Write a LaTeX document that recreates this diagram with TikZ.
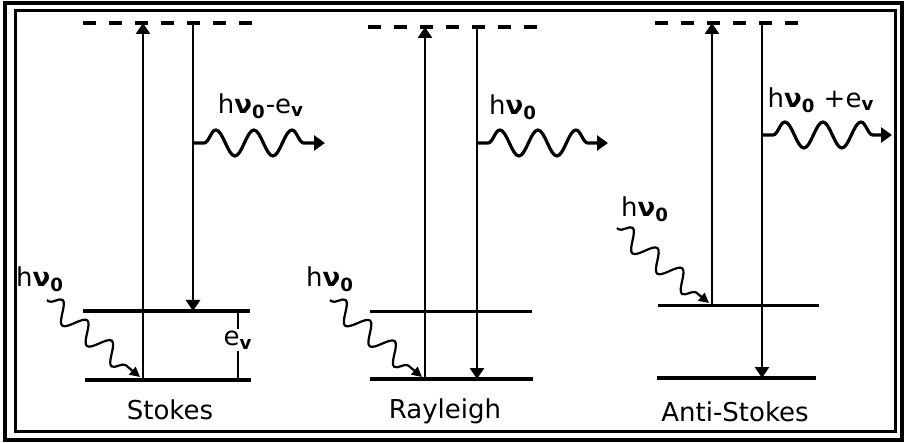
\documentclass[tikz,border=0pt]{standalone}
\usepackage{fontspec}
\setmainfont{DejaVu Sans}
\usetikzlibrary{arrows.meta,decorations.pathmorphing}

\newcommand{\hnu}{h\textbf{ν}\textsubscript{\textbf{0}}}
\newcommand{\evib}{e\textsubscript{\textbf{v}}}

\tikzset{
    level/.style={line width=1.7pt},
    virtual/.style={line width=2.2pt, dash pattern=on 6.5pt off 6.5pt},
    trans/.style={line width=1.4pt, -{Triangle[width=7pt,length=5.5pt]}},
    photonout/.style={line width=1.6pt, -{Triangle[width=7.5pt,length=5.5pt]},
        decorate, decoration={snake, amplitude=6.5pt, segment length=19pt,
        pre length=5.5pt, post length=9pt}},
    photonin/.style={line width=1.1pt, -{Triangle[width=5pt,length=5pt]},
        decorate, decoration={snake, amplitude=5pt, segment length=16pt,
        pre length=1pt, post length=5pt}},
    lbl/.style={font=\fontsize{13}{15}\selectfont, inner sep=1pt},
}

\begin{document}
\begin{tikzpicture}[x=0.5pt, y=-0.5pt]
    \useasboundingbox (0,0) rectangle (905,443);

    % Double frame
    \draw[line width=2pt] (5,3) rectangle (902,440);
    \draw[line width=1.5pt] (15,11) rectangle (895,431);

    % ---------- Stokes ----------
    % Levels
    \draw[level] (85,380) -- (251,380);
    \draw[level] (83,311) -- (250,311);
    \draw[virtual] (83,23) -- (253,23);
    % Transitions
    \coordinate (st-up-b) at (143,380);
    \coordinate (st-up-t) at (143,23);
    \coordinate (st-dn-t) at (193,25);
    \coordinate (st-dn-b) at (193,311);
    \draw[trans] (st-up-b) -- (st-up-t);
    \draw[trans] (st-dn-t) -- (st-dn-b);
    % Photons
    \coordinate (st-out-a) at (193,143);
    \coordinate (st-out-b) at (325,143);
    \draw[photonout] (st-out-a) -- (st-out-b);
    \node[lbl] (st-out-lbl) at (261,106) {\hnu-\evib};
    \coordinate (st-in-a) at (47,300);
    \coordinate (st-in-b) at (140,377);
    \draw[photonin] (st-in-a) -- (st-in-b);
    \node[lbl] (st-in-lbl) at (40,279) {\hnu};
    % Vibrational gap
    \coordinate (st-ev-t) at (238,311);
    \coordinate (st-ev-b) at (238,380);
    \node[lbl] (st-ev) at (238,340) {\evib};
    \draw[line width=1.3pt] (st-ev-t) -- (st-ev);
    \draw[line width=1.3pt] (st-ev) -- (st-ev-b);
    \node[lbl] (st-name) at (170,410) {Stokes};

    % ---------- Rayleigh ----------
    % Levels
    \draw[level] (370,379) -- (533,379);
    \draw[line width=1.5pt] (370,312) -- (532,312);
    \draw[virtual] (368,27) -- (538,27);
    % Transitions
    \coordinate (ra-up-b) at (425,379);
    \coordinate (ra-up-t) at (425,27);
    \coordinate (ra-dn-t) at (477,27);
    \coordinate (ra-dn-b) at (477,379);
    \draw[trans] (ra-up-b) -- (ra-up-t);
    \draw[trans] (ra-dn-t) -- (ra-dn-b);
    % Photons
    \coordinate (ra-out-a) at (477,143);
    \coordinate (ra-out-b) at (608,143);
    \draw[photonout] (ra-out-a) -- (ra-out-b);
    \node[lbl] (ra-out-lbl) at (513,107) {\hnu};
    \coordinate (ra-in-a) at (330,300);
    \coordinate (ra-in-b) at (422,377);
    \draw[photonin] (ra-in-a) -- (ra-in-b);
    \node[lbl] (ra-in-lbl) at (330,279) {\hnu};
    \node[lbl] (ra-name) at (445,411) {Rayleigh};

    % ---------- Anti-Stokes ----------
    % Levels
    \draw[level] (657,378) -- (816,378);
    \draw[line width=1.5pt] (658,306) -- (819,306);
    \draw[virtual] (655,23) -- (800,23);
    % Transitions
    \coordinate (as-up-b) at (712,306);
    \coordinate (as-up-t) at (712,23);
    \coordinate (as-dn-t) at (762,23);
    \coordinate (as-dn-b) at (762,378);
    \draw[trans] (as-up-b) -- (as-up-t);
    \draw[trans] (as-dn-t) -- (as-dn-b);
    % Photons
    \coordinate (as-out-a) at (762,135);
    \coordinate (as-out-b) at (892,135);
    \draw[photonout] (as-out-a) -- (as-out-b);
    \node[lbl] (as-out-lbl) at (821,100) {\hnu\ +\evib};
    \coordinate (as-in-a) at (617,228);
    \coordinate (as-in-b) at (709,303);
    \draw[photonin] (as-in-a) -- (as-in-b);
    \node[lbl] (as-in-lbl) at (645,209) {\hnu};
    \node[lbl] (as-name) at (735,412) {Anti-Stokes};

\end{tikzpicture}
\end{document}
